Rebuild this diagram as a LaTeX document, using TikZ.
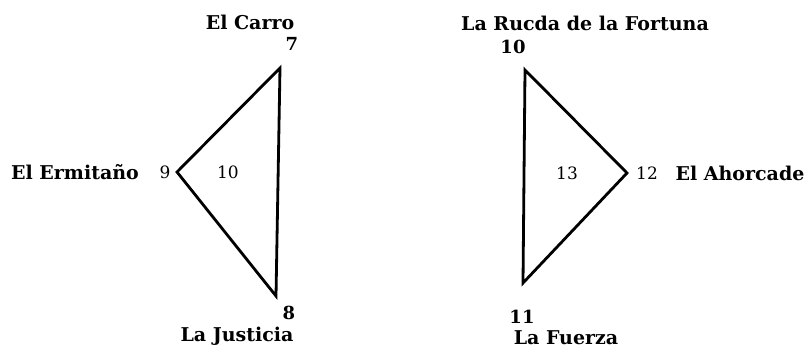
\documentclass[tikz,border=0pt]{standalone}
\usepackage{fontspec}
\setmainfont{DejaVu Serif}
\begin{document}
\begin{tikzpicture}[x=1pt,y=-1pt,
  edge/.style={line width=2.8pt,line join=miter,line cap=round},
  cardname/.style={font=\fontsize{19}{22}\selectfont\bfseries,inner sep=0pt},
  vnum/.style={font=\fontsize{18}{21}\selectfont\bfseries,inner sep=0pt},
  inum/.style={font=\fontsize{17}{20}\selectfont,inner sep=0pt}]
\useasboundingbox (0,0) rectangle (808,348);
% left triangle
\coordinate (T1) at (280,68);
\coordinate (B1) at (276,296);
\coordinate (L1) at (177,172);
\draw[edge] (T1) -- (L1) -- (B1) -- cycle;
\node[cardname] (carro) at (250,22) {El Carro};
\node[vnum] (n7) at (292,44) {7};
\node[vnum] (n8) at (289,313) {8};
\node[cardname] (justicia) at (237,336) {La Justicia};
\node[inum] (n9) at (165,172) {9};
\node[inum] (n10a) at (228,172) {10};
\node[cardname] (ermitano) at (75,172) {El Ermitaño};
% right triangle
\coordinate (T2) at (525,70);
\coordinate (B2) at (523,283);
\coordinate (R2) at (627,173);
\draw[edge] (T2) -- (R2) -- (B2) -- cycle;
\node[cardname] (rueda) at (585,23) {La Rucda de la Fortuna};
\node[vnum] (n10b) at (513,47) {10};
\node[vnum] (n11) at (522,317) {11};
\node[cardname] (fuerza) at (566,338) {La Fuerza};
\node[inum] (n13) at (567,173) {13};
\node[inum] (n12) at (647,173) {12};
\node[cardname] (ahorcado) at (740,173) {El Ahorcade};
\end{tikzpicture}
\end{document}
